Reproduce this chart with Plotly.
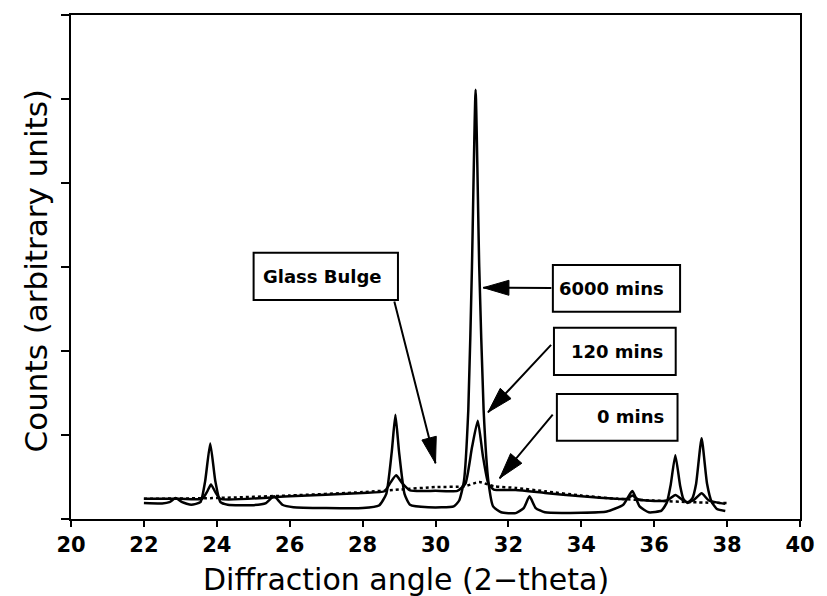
import plotly.graph_objects as go

# ---------------- data ----------------
x_6000 = [22.0, 22.5, 22.7, 22.87, 23.05, 23.3, 23.55, 23.68, 23.82, 23.96, 24.1, 24.3,
          25.0, 25.35, 25.57, 25.8, 26.1, 27.0, 28.0, 28.45, 28.65, 28.8, 28.9, 29.0,
          29.15, 29.3, 29.8, 30.5, 30.65, 30.78, 30.9, 31.0, 31.1, 31.2, 31.32, 31.45,
          31.58, 31.8, 32.2, 32.42, 32.58, 32.75, 33.0, 34.0, 34.7, 35.15, 35.4, 35.6,
          35.85, 36.2, 36.35, 36.45, 36.58, 36.71, 36.8, 36.92, 37.05, 37.15, 37.3, 37.45,
          37.58, 37.72, 37.95]
y_6000 = [0.19, 0.185, 0.2, 0.25, 0.2, 0.17, 0.2, 0.45, 0.9, 0.45, 0.2, 0.17,
          0.165, 0.19, 0.27, 0.17, 0.14, 0.13, 0.13, 0.16, 0.3, 0.8, 1.24, 0.8,
          0.3, 0.17, 0.14, 0.15, 0.22, 0.45, 1.3, 3.0, 5.11, 3.0, 1.3, 0.45,
          0.15, 0.08, 0.07, 0.13, 0.27, 0.13, 0.08, 0.075, 0.09, 0.17, 0.333, 0.15,
          0.08, 0.1, 0.2, 0.4, 0.76, 0.4, 0.24, 0.19, 0.25, 0.42, 0.96, 0.42,
          0.2, 0.12, 0.095]

x_120 = [22.0, 23.0, 23.6, 23.74, 23.84, 23.96, 24.1, 26.0, 28.0, 28.6, 28.76, 28.92,
         29.08, 29.3, 30.0, 30.6, 30.82, 31.0, 31.16, 31.3, 31.45, 31.6, 32.2, 33.0,
         34.0, 35.0, 35.25, 35.4, 35.55, 35.8, 36.35, 36.58, 36.8, 36.92, 37.1, 37.3,
         37.5, 37.95]
y_120 = [0.24, 0.24, 0.24, 0.33, 0.41, 0.32, 0.24, 0.27, 0.31, 0.33, 0.43, 0.52,
         0.43, 0.34, 0.335, 0.335, 0.42, 0.85, 1.17, 0.75, 0.42, 0.35, 0.345, 0.31,
         0.27, 0.24, 0.24, 0.28, 0.235, 0.22, 0.22, 0.286, 0.22, 0.2, 0.23, 0.306,
         0.22, 0.18]

x_0 = [22.0, 24.0, 26.0, 28.0, 29.0, 30.0, 30.8, 31.2, 31.6, 32.2, 33.0, 34.0,
       35.0, 36.0, 37.0, 38.0]
y_0 = [0.24, 0.25, 0.28, 0.32, 0.35, 0.38, 0.39, 0.44, 0.39, 0.37, 0.33, 0.28,
       0.24, 0.22, 0.2, 0.19]

x_ticks = [20, 22, 24, 26, 28, 30, 32, 34, 36, 38, 40]
y_ticks = [0, 1, 2, 3, 4, 5, 6]

# label boxes: text, box x0, x1, y0, y1, text x, text y, arrow tail (x, y), arrow tip (x, y)
labels = [
    ("Glass Bulge", 25.01, 28.97, 2.607, 3.17, 25.2, 2.885, (28.86, 2.607), (30.0, 0.663)),
    ("6000 mins", 33.22, 36.71, 2.468, 3.024, 33.33, 2.746, (33.22, 2.75), (31.31, 2.754)),
    ("120 mins", 33.25, 36.59, 1.714, 2.277, 33.66, 1.99, (33.21, 2.09), (31.44, 1.27)),
    ("0 mins", 33.33, 36.64, 0.932, 1.488, 34.38, 1.218, (33.25, 1.26), (31.76, 0.485)),
]

# ---------------- layout geometry ----------------
W, H = 827, 596
ML, MR, MT, MB = 71, 18, 15, 77
XR = [20, 40]
YR = [0, 6]
PW = W - ML - MR
PH = H - MT - MB
FONT = "DejaVu Sans"

def to_px(x, y):
    return (ML + (x - XR[0]) / (XR[1] - XR[0]) * PW,
            MT + (YR[1] - y) / (YR[1] - YR[0]) * PH)

def to_data(px, py):
    return (XR[0] + (px - ML) / PW * (XR[1] - XR[0]),
            YR[1] - (py - MT) / PH * (YR[1] - YR[0]))

fig = go.Figure()
fig.add_trace(go.Scatter(x=x_0, y=y_0, mode="lines", line_shape="spline",
                         line=dict(color="black", width=2.5, dash="dot", smoothing=0.6),
                         name="0 mins"))
fig.add_trace(go.Scatter(x=x_120, y=y_120, mode="lines", line_shape="spline",
                         line=dict(color="black", width=2.5, smoothing=0.5), name="120 mins"))
fig.add_trace(go.Scatter(x=x_6000, y=y_6000, mode="lines", line_shape="spline",
                         line=dict(color="black", width=2.5, smoothing=0.5), name="6000 mins"))

shapes = []
annotations = []
HEAD_L, HEAD_W = 26, 15
for text, bx0, bx1, by0, by1, tx, ty, tail, tip in labels:
    shapes.append(dict(type="rect", xref="x", yref="y", x0=bx0, x1=bx1, y0=by0, y1=by1,
                       line=dict(color="black", width=2), fillcolor="white", layer="above"))
    annotations.append(dict(x=tx, y=ty, xref="x", yref="y", text=text, showarrow=False,
                            xanchor="left", yanchor="middle",
                            font=dict(family=FONT, size=18, color="black", weight="bold")))
    # arrow shaft
    annotations.append(dict(x=tip[0], y=tip[1], ax=tail[0], ay=tail[1], xref="x", yref="y",
                            axref="x", ayref="y", text="", showarrow=True, arrowhead=0,
                            arrowwidth=2, arrowcolor="black"))
    # arrow head (filled triangle)
    tpx, tpy = to_px(*tip)
    spx, spy = to_px(*tail)
    dx, dy = tpx - spx, tpy - spy
    n = (dx * dx + dy * dy) ** 0.5
    ux, uy = dx / n, dy / n
    bx, by = tpx - HEAD_L * ux, tpy - HEAD_L * uy
    p1 = to_data(bx + HEAD_W / 2 * -uy, by + HEAD_W / 2 * ux)
    p2 = to_data(bx - HEAD_W / 2 * -uy, by - HEAD_W / 2 * ux)
    path = f"M{tip[0]},{tip[1]} L{p1[0]},{p1[1]} L{p2[0]},{p2[1]} Z"
    shapes.append(dict(type="path", xref="x", yref="y", path=path,
                       fillcolor="black", line=dict(color="black", width=1), layer="above"))

# axis titles
annotations.append(dict(x=(410 - ML) / PW, y=(MT + PH - 579) / PH, xref="paper", yref="paper",
                        text="Diffraction angle (2\u2212theta)", showarrow=False,
                        xanchor="center", yanchor="middle",
                        font=dict(family=FONT, size=30, color="black")))
annotations.append(dict(x=(36 - ML) / PW, y=(MT + PH - 271) / PH, xref="paper", yref="paper",
                        text="Counts (arbitrary units)", showarrow=False, textangle=-90,
                        xanchor="center", yanchor="middle",
                        font=dict(family=FONT, size=31, color="black")))

fig.update_layout(
    width=W, height=H,
    margin=dict(l=ML, r=MR, t=MT, b=MB, pad=0),
    paper_bgcolor="white", plot_bgcolor="white",
    showlegend=False,
    shapes=shapes, annotations=annotations,
    font=dict(family=FONT, color="black"),
)
fig.update_xaxes(range=XR, tickvals=x_ticks, ticktext=[str(v) for v in x_ticks],
                 ticks="outside", ticklen=6, tickwidth=2, tickcolor="black",
                 showline=True, linewidth=2, linecolor="black", mirror=True,
                 showgrid=False, zeroline=False,
                 tickfont=dict(family=FONT, size=21, color="black", weight="bold"))
fig.update_yaxes(range=YR, tickvals=y_ticks, showticklabels=False,
                 ticks="outside", ticklen=8, tickwidth=2, tickcolor="black",
                 showline=True, linewidth=2, linecolor="black", mirror=True,
                 showgrid=False, zeroline=False)

fig.write_html("out.html")
